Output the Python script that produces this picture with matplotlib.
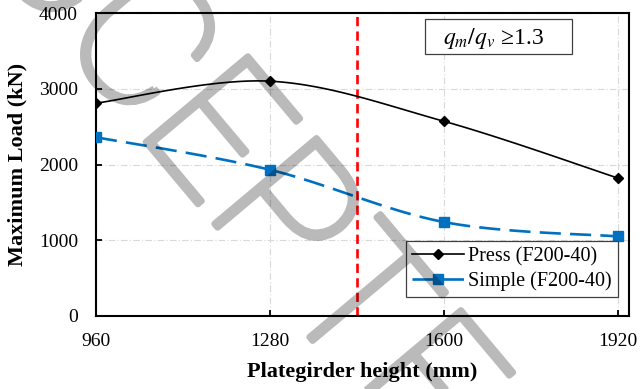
import numpy as np
import matplotlib
matplotlib.use("Agg")
import matplotlib.pyplot as plt
from matplotlib.lines import Line2D
from matplotlib.patches import Rectangle
import matplotlib.patheffects as pe

# ---- data ----
heights = [960, 1280, 1600, 1920]
press_load = [2810, 3100, 2570, 1820]
simple_load = [2360, 1930, 1240, 1050]
limit_height = 1440
x_ticks = [960, 1280, 1600, 1920]
y_ticks = [0, 1000, 2000, 3000, 4000]
series_names = ["Press (F200-40)", "Simple (F200-40)"]

plt.rcParams["font.family"] = ["Liberation Serif", "DejaVu Serif"]
plt.rcParams["mathtext.fontset"] = "stix"

BLUE = "#0070C0"


def smooth(xs, ys, n=40):
    """Excel-style smoothed line: cubic Bezier segments with Catmull-Rom tangents."""
    x = np.asarray(xs, float)
    y = np.asarray(ys, float)
    px = np.concatenate([[x[0]], x, [x[-1]]])
    py = np.concatenate([[y[0]], y, [y[-1]]])
    t = np.linspace(0, 1, n)
    ox, oy = [], []
    for i in range(1, len(x)):
        p0 = np.array([px[i], py[i]])
        p3 = np.array([px[i + 1], py[i + 1]])
        c1 = p0 + (np.array([px[i + 1], py[i + 1]]) - np.array([px[i - 1], py[i - 1]])) / 6
        c2 = p3 - (np.array([px[i + 2], py[i + 2]]) - np.array([px[i], py[i]])) / 6
        b = ((1 - t) ** 3)[:, None] * p0 + (3 * (1 - t) ** 2 * t)[:, None] * c1 \
            + (3 * (1 - t) * t ** 2)[:, None] * c2 + (t ** 3)[:, None] * p3
        ox.extend(b[:, 0])
        oy.extend(b[:, 1])
    return np.array(ox), np.array(oy)


fig = plt.figure(figsize=(6.4, 3.89), dpi=100)
ax = fig.add_axes([96 / 640, 1 - 316 / 389, (629 - 96) / 640, (316 - 13) / 389])

ax.set_xlim(960, 1940)
ax.set_ylim(0, 4000)
ax.set_xticks(x_ticks)
ax.set_yticks(y_ticks)

ax.grid(True, color="#d9d9d9", linewidth=0.8, dashes=(6, 2, 1, 2))
ax.set_axisbelow(True)

for s in ax.spines.values():
    s.set_linewidth(1.5)
    s.set_color("black")

ax.tick_params(axis="both", direction="in", length=4, width=1.3,
               labelsize=14, colors="black")
ax.tick_params(axis="x", pad=12)
ax.tick_params(axis="y", pad=13)

# curves
sx, sy = smooth(heights, press_load)
ax.plot(sx, sy, color="black", linewidth=1.2, zorder=3)
ax.plot(heights, press_load, linestyle="none", marker="D", markersize=5.5,
        color="black", zorder=4)

sx, sy = smooth(heights, simple_load)
ax.plot(sx, sy, color=BLUE, linewidth=1.9, dashes=(8, 3.5), zorder=3)
ax.plot(heights, simple_load, linestyle="none", marker="s", markersize=7,
        color=BLUE, zorder=4)

# limit line
ax.axvline(limit_height, color="#FF0000", linewidth=1.9, dashes=(3.5, 2), zorder=2.5)

ax.set_xlabel("Plategirder height (mm)", fontsize=16, fontweight="bold", labelpad=9)
ax.set_ylabel("Maximum Load (kN)", fontsize=16, fontweight="bold", labelpad=8)

# ratio annotation in a framed box
ax.add_patch(Rectangle((0.617, 0.865), 0.276, 0.115, transform=ax.transAxes,
                       facecolor="white", edgecolor="#404040", linewidth=0.9,
                       zorder=5))
ax.text(0.746, 0.917, r"$q_m/q_v$ ≥1.3", transform=ax.transAxes, fontsize=17,
        ha="center", va="center", zorder=6)

handles = [
    Line2D([], [], color="black", linewidth=1.2, marker="D", markersize=5.5),
    Line2D([], [], color=BLUE, linewidth=1.9, dashes=(8, 3.5), marker="s", markersize=7),
]
leg = ax.legend(handles, series_names, loc="lower right",
                bbox_to_anchor=(1 - 11 / 533, 19 / 303), fontsize=14.5,
                frameon=True, fancybox=False, edgecolor="#404040", framealpha=1,
                handlelength=2.6, handletextpad=0.2, labelspacing=0.25,
                borderpad=0.3, borderaxespad=0.0)
leg.get_frame().set_linewidth(0.9)

# diagonal watermark: translucent outline stroke around thin glyphs
wm_stroke = [pe.Stroke(linewidth=4.5, foreground=(0, 0, 0, 0.27))]
wm = dict(fontsize=135, family="Roboto", weight="light", color="none",
          rotation=-50, rotation_mode="anchor", va="baseline", zorder=10,
          path_effects=wm_stroke)
anchor = (134 / 640, 1 - 128 / 389)
fig.text(anchor[0], anchor[1], "ACC", ha="right", **wm)
fig.text(anchor[0], anchor[1], "EPTED", ha="left", **wm)

fig.savefig("out.png", dpi=100)
